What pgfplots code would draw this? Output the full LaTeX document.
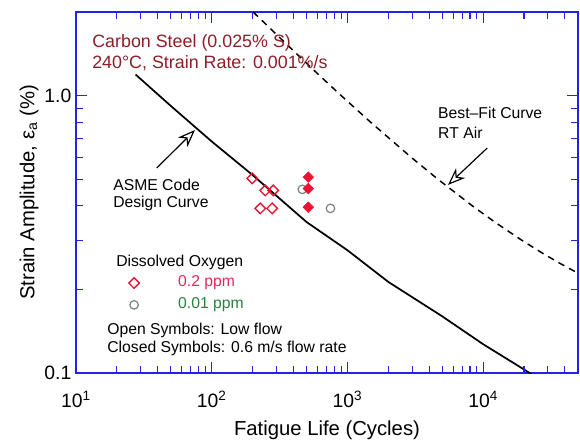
\documentclass[border=0pt]{standalone}
\usepackage{pgfplots}
\pgfplotsset{compat=1.18}
\usepackage{fontspec}
\setmainfont{Liberation Sans}
\usetikzlibrary{arrows.meta}
\definecolor{axisblue}{RGB}{35,35,230}
\definecolor{titlered}{RGB}{140,30,40}
\definecolor{datared}{RGB}{232,20,50}
\definecolor{pinkred}{RGB}{228,40,90}
\definecolor{textgreen}{RGB}{40,130,60}
\definecolor{circgray}{RGB}{120,132,126}
\begin{document}
\begin{tikzpicture}
\begin{axis}[
  scale only axis, width=376.5pt, height=270.75pt,
  xmode=log, ymode=log,
  xmin=10, xmax=50000, ymin=0.1, ymax=2,
  xtick={10,100,1000,10000},
  xticklabels={10\textsuperscript{1},10\textsuperscript{2},10\textsuperscript{3},10\textsuperscript{4}},
  ytick={0.1,1}, yticklabels={0.1,1.0},
  tick style={draw=none},
  axis line style={axisblue, line width=1pt},
  ticklabel style={font=\fontsize{14.5}{16}\selectfont},
  xticklabel style={yshift=-10pt},
  xlabel={Fatigue Life (Cycles)},
  ylabel={Strain Amplitude, ε\textsubscript{a} (\%)},
  label style={font=\fontsize{15.2}{17}\selectfont},
  xlabel style={at={(axis description cs:0.5,-0.158)}, anchor=center},
  ylabel style={at={(axis description cs:-0.0936,0.5)}, anchor=center},
]
% ASME code design curve
\addplot[black, line width=1.3pt] coordinates {
(27.5,1.19) (50,0.917) (100,0.683) (200,0.517) (500,0.35) (1000,0.277)
(2000,0.213) (5000,0.16) (10000,0.127) (20000,0.103) (50000,0.077)};
% Best-fit curve RT air
\addplot[black, line width=1.1pt, dash pattern=on 5pt off 4pt] coordinates {
(202,2.0) (372,1.5) (601,1.2) (898,1.0) (1488,0.8) (2937,0.6) (4622,0.5)
(8343,0.4) (12177,0.35) (19440,0.3) (27455,0.27) (35950,0.25) (49100,0.23)};
% 0.2 ppm, low flow
\addplot[only marks, mark=square, mark size=2.8pt, datared,
  mark options={rotate=45, line width=1pt}] coordinates {
(199,0.503) (248,0.455) (284,0.455) (228,0.392) (279,0.392)};
% 0.01 ppm, low flow
\addplot[only marks, mark=o, mark size=3.2pt, circgray,
  mark options={line width=0.9pt}] coordinates {
(465,0.459) (750,0.392)};
% 0.2 ppm, 0.6 m/s
\addplot[only marks, mark=square*, mark size=2.8pt, datared,
  mark options={rotate=45, fill=datared}] coordinates {
(515,0.508) (515,0.462) (515,0.396)};
% legend symbols
\addplot[only marks, mark=square, mark size=2.8pt, datared,
  mark options={rotate=45, line width=1pt}] coordinates {(26.8,0.211)};
\addplot[only marks, mark=o, mark size=3.2pt, circgray,
  mark options={line width=0.9pt}] coordinates {(26.8,0.176)};
% axis ticks (blue, inside, all four sides), lengths in data units
\pgfplotsinvokeforeach{100,1000,10000}{
  \draw[axisblue, line width=0.8pt] (axis cs:#1,0.1) -- (axis cs:#1,0.10925);
  \draw[axisblue, line width=0.8pt] (axis cs:#1,2) -- (axis cs:#1,1.8307);
}
\pgfplotsinvokeforeach{20,30,40,50,60,70,80,90,200,300,400,500,600,700,800,900,2000,3000,4000,5000,6000,7000,8000,9000,20000,30000,40000}{
  \draw[axisblue, line width=0.8pt] (axis cs:#1,0.1) -- (axis cs:#1,0.10569);
  \draw[axisblue, line width=0.8pt] (axis cs:#1,2) -- (axis cs:#1,1.8923);
}
\pgfplotsinvokeforeach{1}{
  \draw[axisblue, line width=0.8pt] (axis cs:10,#1) -- (axis cs:11.98,#1);
  \draw[axisblue, line width=0.8pt] (axis cs:50000,#1) -- (axis cs:41736,#1);
}
\pgfplotsinvokeforeach{0.2,0.3,0.4,0.5,0.6,0.7,0.8,0.9}{
  \draw[axisblue, line width=0.8pt] (axis cs:10,#1) -- (axis cs:11.197,#1);
  \draw[axisblue, line width=0.8pt] (axis cs:50000,#1) -- (axis cs:44655,#1);
}
% texts
\node[anchor=west, text=titlered, font=\fontsize{13.4}{15}\selectfont, inner sep=0pt]
  at (rel axis cs:0.0319,0.914) {Carbon Steel (0.025\% S)};
\node[anchor=west, text=titlered, font=\fontsize{13.4}{15}\selectfont, inner sep=0pt]
  at (rel axis cs:0.0319,0.859) {240°C, Strain Rate: 0.001\%/s};
\node[anchor=west, font=\fontsize{11.8}{13}\selectfont, inner sep=0pt]
  at (rel axis cs:0.0737,0.521) {ASME Code};
\node[anchor=west, font=\fontsize{11.8}{13}\selectfont, inner sep=0pt]
  at (rel axis cs:0.0737,0.471) {Design Curve};
\node[anchor=west, font=\fontsize{11.8}{13}\selectfont, inner sep=0pt]
  at (rel axis cs:0.721,0.720) {Best–Fit Curve};
\node[anchor=west, font=\fontsize{11.8}{13}\selectfont, inner sep=0pt]
  at (rel axis cs:0.721,0.665) {RT Air};
\node[anchor=west, font=\fontsize{11.8}{13}\selectfont, inner sep=0pt]
  at (rel axis cs:0.0797,0.305) {Dissolved Oxygen};
\node[anchor=west, text=pinkred, font=\fontsize{11.8}{13}\selectfont, inner sep=0pt]
  at (rel axis cs:0.203,0.249) {0.2 ppm};
\node[anchor=west, text=textgreen, font=\fontsize{11.8}{13}\selectfont, inner sep=0pt]
  at (rel axis cs:0.203,0.188) {0.01 ppm};
\node[anchor=west, font=\fontsize{11.8}{13}\selectfont, inner sep=0pt]
  at (rel axis cs:0.0618,0.119) {Open Symbols: Low flow};
\node[anchor=west, font=\fontsize{11.8}{13}\selectfont, inner sep=0pt]
  at (rel axis cs:0.0618,0.069) {Closed Symbols: 0.6 m/s flow rate};
% arrows
\draw[black, line width=0.9pt, -{Stealth[open, length=13pt, width=10pt, inset=4pt]}]
  (rel axis cs:0.161,0.568) -- (rel axis cs:0.237,0.673);
\draw[black, line width=0.9pt, -{Stealth[open, length=13pt, width=10pt, inset=4pt]}]
  (rel axis cs:0.819,0.623) -- (rel axis cs:0.741,0.521);
\end{axis}
\path[use as bounding box] (-57pt,-50.25pt) rectangle (378pt,279.75pt);
\end{tikzpicture}
\end{document}
